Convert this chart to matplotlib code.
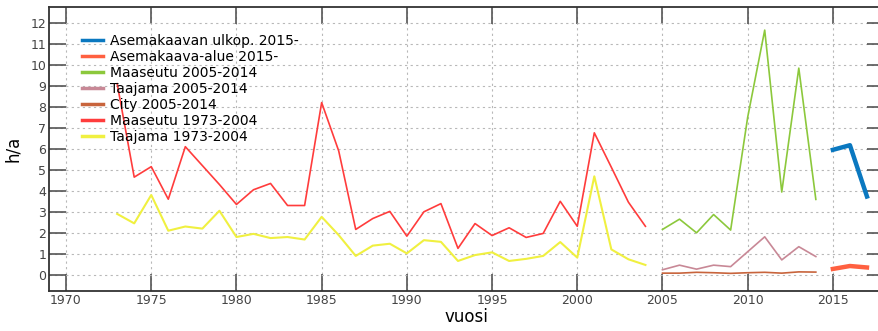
import matplotlib.pyplot as plt

years_a = list(range(1973, 2005))
maaseutu_a = [9.1, 4.65, 5.15, 3.6, 6.1, 5.2, 4.3, 3.35, 4.05, 4.35, 3.3, 3.3,
              8.2, 5.9, 2.16, 2.68, 3.02, 1.84, 3.0, 3.39, 1.26, 2.44, 1.87, 2.24,
              1.78, 1.97, 3.5, 2.31, 6.76, 5.12, 3.46, 2.31]
taajama_a = [2.9, 2.45, 3.8, 2.1, 2.3, 2.2, 3.05, 1.8, 1.95, 1.75, 1.8, 1.68,
             2.76, 1.89, 0.9, 1.39, 1.48, 1.02, 1.65, 1.57, 0.66, 0.94, 1.07, 0.66,
             0.76, 0.9, 1.56, 0.82, 4.69, 1.21, 0.74, 0.47]

years_b = list(range(2005, 2015))
maaseutu_b = [2.16, 2.65, 2.0, 2.87, 2.13, 7.5, 11.65, 3.94, 9.84, 3.59]
taajama_b = [0.24, 0.46, 0.27, 0.46, 0.39, 1.1, 1.81, 0.71, 1.34, 0.87]
city_b = [0.08, 0.08, 0.12, 0.1, 0.07, 0.1, 0.12, 0.08, 0.14, 0.13]

years_c = [2015, 2016, 2017]
ulkop_c = [5.95, 6.17, 3.73]
alue_c = [0.28, 0.42, 0.35]

fig = plt.figure(figsize=(8.79, 3.31), dpi=100)
ax = fig.add_axes([49/879, 40/331, (884-49)/879, (291-7)/331])

ax.plot(years_c, ulkop_c, color='#0a78c0', lw=3.2, label='Asemakaavan ulkop. 2015-')
ax.plot(years_c, alue_c, color='#ff6040', lw=3.2, label='Asemakaava-alue 2015-')
ax.plot(years_b, maaseutu_b, color='#8cc83c', lw=1.2, label='Maaseutu 2005-2014')
ax.plot(years_b, taajama_b, color='#c88896', lw=1.2, label='Taajama 2005-2014')
ax.plot(years_b, city_b, color='#c8643c', lw=1.2, label='City 2005-2014')
ax.plot(years_a, maaseutu_a, color='#ff3c3c', lw=1.2, label='Maaseutu 1973-2004')
ax.plot(years_a, taajama_a, color='#f0f040', lw=1.5, label='Taajama 1973-2004')

ax.set_xlim(1969.0, 2018.0)
ax.set_ylim(-0.77, 12.75)
ax.set_xticks(range(1970, 2020, 5))
ax.set_yticks(range(0, 13))
ax.grid(True, ls=(0, (2, 3)), color='#b8b8b8', lw=0.8)
ax.tick_params(direction='in', length=12, width=1.2, colors='#555555',
               labelcolor='#444444', labelsize=9, top=True, right=True, pad=2)
for s in ax.spines.values():
    s.set_color('#333333')
    s.set_linewidth(1.3)

ax.set_xlabel('vuosi', fontsize=12, labelpad=1)
ax.set_ylabel('h/a', fontsize=12, labelpad=6)

leg = ax.legend(loc='upper left', bbox_to_anchor=(0.025, 0.95), frameon=False,
                fontsize=10, handlelength=1.5, handletextpad=0.5, labelspacing=0.15)
for h in leg.get_lines():
    h.set_linewidth(2.5)

fig.savefig('out.png', dpi=100)
